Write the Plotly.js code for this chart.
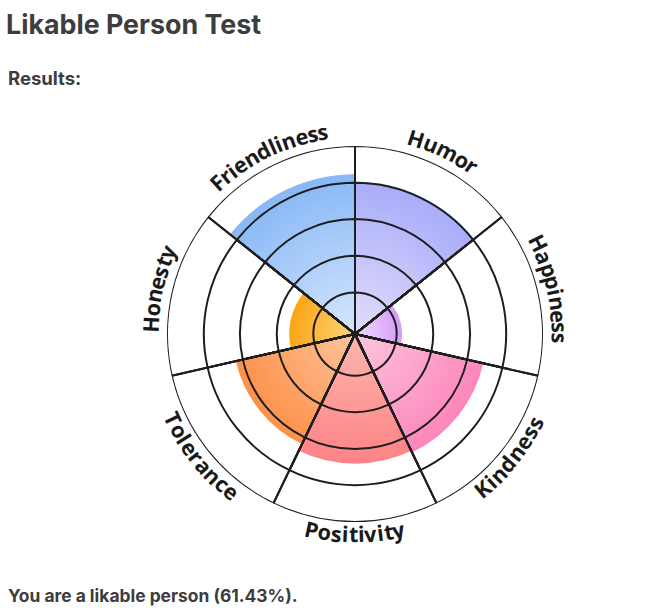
<!DOCTYPE html>
<html>
<head>
<meta charset="utf-8">
<script src="https://cdn.plot.ly/plotly-3.0.1.min.js"></script>
<style>
html, body { margin: 0; padding: 0; background: #ffffff; }
#chart { width: 655px; height: 616px; }
</style>
</head>
<body>
<div id="chart"></div>
<script>
// ---------- data ----------
const categories = ['Friendliness', 'Humor', 'Happiness', 'Kindness', 'Positivity', 'Tolerance', 'Honesty'];
const scores = [85, 81, 25, 70, 69, 65, 35];
const ringValues = [22.1, 41.6, 61.2, 80.4, 100];
const titleText = 'Likable Person Test';
const resultsLabel = 'Results:';

// ---------- styles ----------
const innerColors = ['#d6e7fd', '#e2defb', '#f1dcfc', '#fcc6de', '#fcb6ad', '#fdc39c', '#fdd57e'];
const outerColors = ['#88b8f6', '#a9acfa', '#d69bf7', '#fd86bb', '#fd8486', '#fd914a', '#fba514'];
const midColors   = ['#a9cbf9', '#c2c0fa', '#e3b9f9', '#fca3cb', '#fc9c98', '#fda870', '#fcbb45'];

const W = 655, H = 616;
const CX = 355, CY = 334, R = 188;
const n = categories.length;
const sector = 360 / n;
const rotation = 90 + sector / 2;
const thetas = categories.map((c, i) => i * sector);

const mean = scores.reduce((a, b) => a + b, 0) / n;
const summaryText = 'You are a likable person (' + mean.toFixed(2) + '%).';

// grid rings drawn above the bars as outlined sectors
const gridR = [], gridTheta = [];
ringValues.forEach(v => thetas.forEach(t => { gridR.push(v); gridTheta.push(t); }));

const barTrace = {
  type: 'barpolar',
  r: scores,
  theta: thetas,
  width: thetas.map(() => sector),
  marker: { color: midColors, line: { width: 0 } },
  hoverinfo: 'skip',
  showlegend: false
};
const gridTrace = {
  type: 'barpolar',
  r: gridR,
  theta: gridTheta,
  width: gridTheta.map(() => sector),
  marker: { color: 'rgba(0,0,0,0)', line: { color: '#1e1e1e', width: 2 } },
  hoverinfo: 'skip',
  showlegend: false
};

// ---------- curved labels ----------
const labelFont = { family: 'Open Sans', size: 21.6, color: '#1a1a1a', weight: 700 };
const canvas = document.createElement('canvas');
const ctx = canvas.getContext('2d');
ctx.font = '700 ' + labelFont.size + 'px "Open Sans"';

const annotations = [];
categories.forEach((label, i) => {
  const phi = rotation - i * sector; // math angle, degrees
  const top = Math.sin(phi * Math.PI / 180) >= -0.01;
  const rText = top ? 205 : 200;
  const chars = label.split('');
  const widths = chars.map(ch => ctx.measureText(ch).width);
  const total = widths.reduce((a, b) => a + b, 0);
  const span = total / rText * 180 / Math.PI;
  let cum = 0;
  chars.forEach((ch, k) => {
    const off = (cum + widths[k] / 2) / rText * 180 / Math.PI;
    cum += widths[k];
    const a = top ? (phi + span / 2 - off) : (phi - span / 2 + off);
    const rad = a * Math.PI / 180;
    const px = CX + rText * Math.cos(rad);
    const py = CY - rText * Math.sin(rad);
    let ang = top ? (90 - a) : (-90 - a);
    while (ang > 180) ang -= 360;
    while (ang < -180) ang += 360;
    annotations.push({
      xref: 'paper', yref: 'paper', x: px / W, y: 1 - py / H,
      xanchor: 'center', yanchor: 'middle',
      text: ch, textangle: ang, showarrow: false, font: labelFont
    });
  });
});

annotations.push({
  xref: 'paper', yref: 'paper', x: 6 / W, y: 1 - 78 / H,
  xanchor: 'left', yanchor: 'middle', showarrow: false,
  text: resultsLabel,
  font: { family: 'Inter', size: 18.5, color: '#3d3d3d', weight: 700 }
});
annotations.push({
  xref: 'paper', yref: 'paper', x: 6 / W, y: 1 - 595 / H,
  xanchor: 'left', yanchor: 'middle', showarrow: false,
  text: summaryText,
  font: { family: 'Inter', size: 17.4, color: '#3d3d3d', weight: 700 }
});

const layout = {
  width: W, height: H,
  margin: { l: 0, r: 0, t: 0, b: 0 },
  paper_bgcolor: '#ffffff',
  title: {
    text: titleText, x: 6 / W, xanchor: 'left', y: 1 - 25 / H, yanchor: 'middle',
    font: { family: 'Inter', size: 26.8, color: '#3d3d3d', weight: 700 }
  },
  polar: {
    domain: { x: [(CX - R) / W, (CX + R) / W], y: [(H - CY - R) / H, (H - CY + R) / H] },
    bgcolor: 'rgba(0,0,0,0)',
    barmode: 'overlay',
    radialaxis: { range: [0, 100], showgrid: false, showline: false, showticklabels: false, ticks: '' },
    angularaxis: {
      type: 'linear', thetaunit: 'degrees', rotation: rotation, direction: 'clockwise',
      showgrid: false, showline: false, showticklabels: false, ticks: ''
    }
  },
  annotations: annotations,
  showlegend: false
};

function applyGradients() {
  const svg = document.querySelector('#chart .main-svg');
  const defs = svg.querySelector('defs');
  const traces = document.querySelectorAll('#chart .barlayer .trace');
  if (traces.length < 2) return;
  const gridBox = traces[1].getBBox();
  const gcx = gridBox.x + gridBox.width / 2;
  const gcy = gridBox.y + gridBox.height / 2;
  const gR = gridBox.width / 2;
  const paths = traces[0].querySelectorAll('path');
  paths.forEach((p, i) => {
    const ns = 'http://www.w3.org/2000/svg';
    const g = document.createElementNS(ns, 'radialGradient');
    g.setAttribute('id', 'barGrad' + i);
    g.setAttribute('gradientUnits', 'userSpaceOnUse');
    g.setAttribute('cx', gcx);
    g.setAttribute('cy', gcy);
    g.setAttribute('r', gR * scores[i] / 100);
    [[0, innerColors[i]], [1, outerColors[i]]].forEach(([o, c]) => {
      const s = document.createElementNS(ns, 'stop');
      s.setAttribute('offset', o);
      s.setAttribute('stop-color', c);
      g.appendChild(s);
    });
    defs.appendChild(g);
    p.style.fill = 'url(#barGrad' + i + ')';
  });
}

Plotly.newPlot('chart', [barTrace, gridTrace], layout, { displayModeBar: false, staticPlot: true })
  .then(applyGradients);
</script>
</body>
</html>
